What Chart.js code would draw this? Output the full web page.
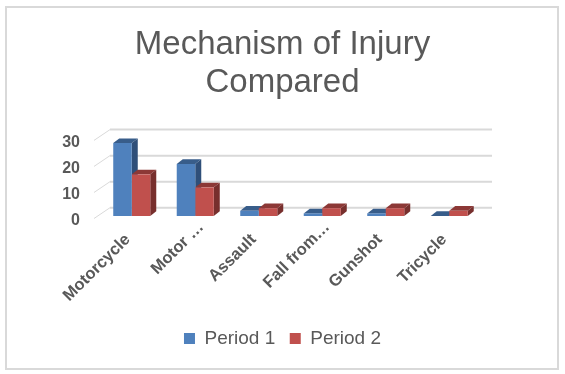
<!DOCTYPE html>
<html lang="en">
<head>
  <meta charset="UTF-8">
  <title>Mechanism of Injury Compared</title>
  <style>
    html, body { margin: 0; padding: 0; background: #fff; }
    #marco { position: absolute; left: 5px; top: 6px; width: 550px; height: 360px; border: 2px solid #d9d9d9; pointer-events: none; }
    #grafico { position: absolute; left: 0; top: 0; }
  </style>
</head>
<body>
  <canvas id="grafico" width="565" height="374"></canvas>
  <div id="marco"></div>

  <script src="https://cdn.jsdelivr.net/npm/chart.js"></script>
  <script>
    const categories = ["Motorcycle", "Motor …", "Assault", "Fall from…", "Gunshot", "Tricycle"];
    const period1 = [28, 20, 2, 1, 1, 0];
    const period2 = [16, 11, 3, 3, 3, 2];
    const yTicks = [0, 10, 20, 30];

    const fontName = "'Liberation Sans', Arial, sans-serif";
    const textColor = "#595959";
    const gridColor = "#d9d9d9";

    // nudges for the rotated labels, the cut off ones sit further up the diagonal
    const labelNudgeX = [-4, 6, -5, 5, -6, -5];
    const labelNudgeY = [0, -12.5, 0, -12.5, 0, 0];

    // Fake 3D: back wall lines and the side/top faces of each bar
    const falso3d = {
      id: "falso3d",
      beforeDraw(chart) {
        chart.scales.x.getLabelItems().forEach((item, i) => {
          if (!item.shifted) {
            item.options.translation[0] += labelNudgeX[i];
            item.options.translation[1] += labelNudgeY[i];
            item.shifted = true;
          }
        });
      },
      beforeDatasetsDraw(chart) {
        const ctx = chart.ctx;
        const y = chart.scales.y;
        const area = chart.chartArea;
        ctx.save();
        ctx.strokeStyle = gridColor;
        yTicks.forEach(v => {
          const p = y.getPixelForValue(v);
          ctx.lineWidth = 2;
          ctx.beginPath();
          ctx.moveTo(area.left + 10, p - 8.3);
          ctx.lineTo(area.right + 11, p - 8.3);
          ctx.stroke();
          ctx.lineWidth = 1;
          ctx.beginPath();
          ctx.moveTo(area.left - 6, p + 2.5);
          ctx.lineTo(area.left + 10, p - 8.3);
          ctx.stroke();
        });

        const dx = 6, dy = 4.7;
        const caras = [["#385d8a", "#2f4f79"], ["#8c3836", "#772f2d"]];
        chart.data.datasets.forEach((ds, d) => {
          chart.getDatasetMeta(d).data.forEach(bar => {
            const l = bar.x - bar.width / 2, r = bar.x + bar.width / 2;
            ctx.fillStyle = caras[d][0];
            ctx.beginPath();
            ctx.moveTo(l, bar.y);
            ctx.lineTo(l + dx, bar.y - dy);
            ctx.lineTo(r + dx, bar.y - dy);
            ctx.lineTo(r, bar.y);
            ctx.fill();
            ctx.fillStyle = caras[d][1];
            ctx.beginPath();
            ctx.moveTo(r, bar.y);
            ctx.lineTo(r + dx, bar.y - dy);
            ctx.lineTo(r + dx, bar.base - dy);
            ctx.lineTo(r, bar.base);
            ctx.fill();
          });
        });
        ctx.restore();
      }
    };

    new Chart(document.getElementById("grafico"), {
      type: "bar",
      data: {
        labels: categories,
        datasets: [
          { label: "Period 1", data: period1, backgroundColor: "#4f81bd" },
          { label: "Period 2", data: period2, backgroundColor: "#c0504d" }
        ]
      },
      options: {
        responsive: false,
        animation: false,
        layout: { padding: { left: 0, right: 0, top: 0, bottom: 16 } },
        categoryPercentage: 0.583,
        barPercentage: 1,
        plugins: {
          tooltip: { enabled: false },
          title: {
            display: true,
            text: ["Mechanism of Injury", "Compared"],
            color: textColor,
            font: { family: fontName, size: 33, weight: "normal", lineHeight: 1.15 },
            padding: { top: 26, bottom: 36 }
          },
          legend: {
            position: "bottom",
            labels: {
              color: textColor,
              font: { family: fontName, size: 19 },
              boxWidth: 11,
              boxHeight: 11,
              padding: 14.5
            }
          }
        },
        scales: {
          x: {
            grid: { display: false },
            border: { display: false },
            ticks: {
              color: textColor,
              font: { family: fontName, size: 16.5, weight: "bold" },
              autoSkip: false,
              minRotation: 45,
              maxRotation: 45,
              padding: 6
            },
            afterFit(scale) { scale.height = 98.5; }
          },
          y: {
            min: 0,
            max: 30,
            grid: { display: false },
            border: { display: false },
            ticks: {
              stepSize: 10,
              color: textColor,
              font: { family: fontName, size: 16, weight: "bold" },
              padding: 12,
              labelOffset: 5
            },
            afterFit(scale) { scale.width = 100; }
          },
          // empty axis, only keeps the right margin so title and legend stay centred
          margen: {
            type: "linear",
            position: "right",
            grid: { display: false },
            border: { display: false },
            ticks: { display: false },
            afterFit(scale) { scale.width = 84; }
          }
        }
      },
      plugins: [falso3d]
    });
  </script>
</body>
</html>
